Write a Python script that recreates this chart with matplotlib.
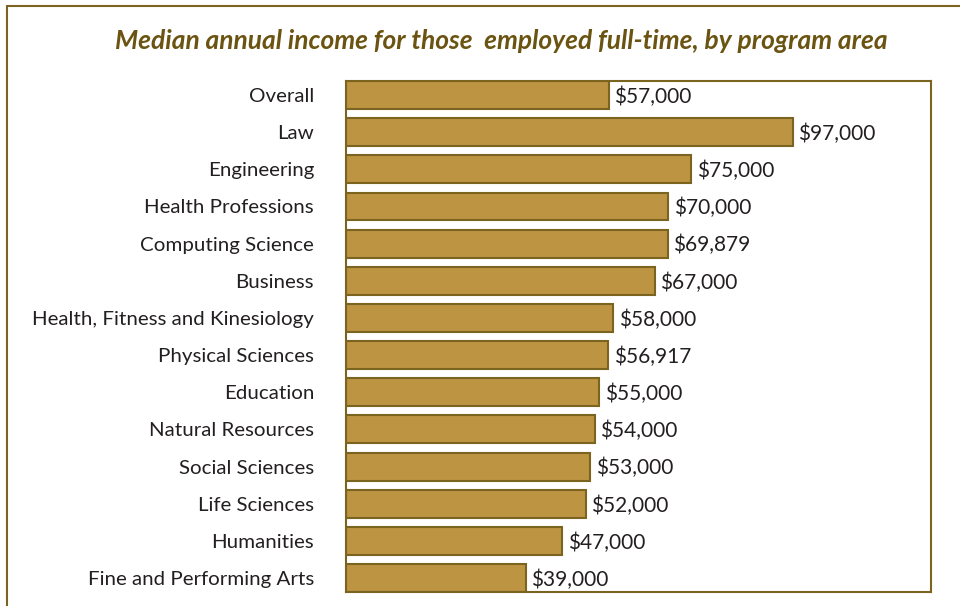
import matplotlib.pyplot as plt
from matplotlib.patches import Rectangle

programs = ['Overall', 'Law', 'Engineering', 'Health Professions', 'Computing Science',
            'Business', 'Health, Fitness and Kinesiology', 'Physical Sciences', 'Education',
            'Natural Resources', 'Social Sciences', 'Life Sciences', 'Humanities',
            'Fine and Performing Arts']
income = [57000, 97000, 75000, 70000, 69879, 67000, 58000, 56917, 55000,
          54000, 53000, 52000, 47000, 39000]

BAR = '#BD9442'
EDGE = '#7A6420'
TITLE = '#6B5411'
TEXT = '#231F20'

plt.rcParams['font.family'] = ['Lato', 'DejaVu Sans']

fig = plt.figure(figsize=(9.6, 6.06), dpi=100)
ax = fig.add_axes([0.3604, 0.0231, 0.6094, 0.8432])

pos = list(range(len(programs)))
ax.barh(pos, income, height=0.75, color=BAR, edgecolor=EDGE, linewidth=1.5)

for y, v in zip(pos, income):
    ax.annotate(f'${v:,}', (v, y), xytext=(4, -1.2), textcoords='offset points',
                ha='left', va='center', fontsize=15, color=TEXT)

ax.set_xlim(0, 127000)
ax.set_ylim(len(programs) - 0.625, -0.375)
ax.set_yticks(pos)
ax.set_yticklabels(programs, fontsize=14.75, color=TEXT)
ax.tick_params(axis='y', length=0, pad=23)
ax.set_xticks([])
for s in ax.spines.values():
    s.set_color(EDGE)
    s.set_linewidth(1.5)

# outer frame, only the top and left edges fall inside the canvas
fig.add_artist(Rectangle((7 / 960, -0.1), 1.2, 1.1 - 6 / 606, transform=fig.transFigure,
                         fill=False, edgecolor=EDGE, linewidth=1.5))

fig.text(0.5220, 0.932, 'Median annual income for those  employed full-time, by program area',
         ha='center', va='center', fontsize=19, fontweight='bold', fontstyle='italic',
         color=TITLE)

fig.savefig('out.png', dpi=100)
